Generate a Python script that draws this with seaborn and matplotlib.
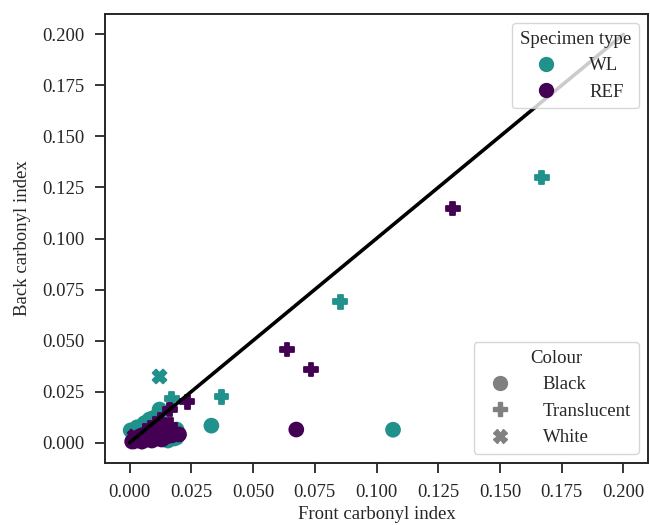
import pandas as pd
import matplotlib
matplotlib.use("Agg")
import matplotlib.pyplot as plt
from matplotlib.lines import Line2D
import seaborn as sns

# --- DATA ---
# WL specimens
wl_black_x = [0.0004, 0.003, 0.006, 0.008, 0.0095, 0.0121, 0.0165, 0.018, 0.0155, 0.019,
              0.0331, 0.1067, 0.002, 0.008, 0.010, 0.013, 0.0045, 0.019]
wl_black_y = [0.0060, 0.0075, 0.0095, 0.0113, 0.012, 0.0162, 0.0045, 0.002, 0.001, 0.0064,
              0.0083, 0.0063, 0.001, 0.003, 0.002, 0.0065, 0.004, 0.0025]
wl_trans_x = [0.1669, 0.0853, 0.0372, 0.017, 0.0115, 0.018, 0.0085, 0.0145, 0.005]
wl_trans_y = [0.1299, 0.0691, 0.0225, 0.0215, 0.0135, 0.006, 0.010, 0.0035, 0.002]
wl_white_x = [0.0121, 0.0075, 0.014, 0.0035, 0.0165]
wl_white_y = [0.0324, 0.0085, 0.0025, 0.0045, 0.0055]

# REF specimens
ref_black_x = [0.0675, 0.001, 0.003, 0.005, 0.007, 0.009, 0.011, 0.013, 0.015, 0.017,
               0.004, 0.006, 0.008, 0.010, 0.012, 0.002, 0.014, 0.020]
ref_black_y = [0.0064, 0.0005, 0.001, 0.0005, 0.0015, 0.001, 0.002, 0.0015, 0.003, 0.0035,
               0.003, 0.004, 0.005, 0.006, 0.004, 0.002, 0.007, 0.004]
ref_trans_x = [0.1309, 0.0638, 0.0735, 0.0234, 0.0162, 0.0105, 0.0165, 0.0125, 0.0085, 0.0065]
ref_trans_y = [0.1147, 0.0456, 0.0358, 0.0200, 0.0162, 0.009, 0.0085, 0.011, 0.007, 0.0055]
ref_white_x = [0.002, 0.005, 0.009, 0.0115, 0.0135, 0.016, 0.0035]
ref_white_y = [0.003, 0.002, 0.0035, 0.005, 0.0025, 0.0045, 0.0005]

ref_line = [0.0, 0.2]

types = ["WL", "REF"]
colours = ["Black", "Translucent", "White"]
palette = {"WL": "#21918c", "REF": "#440154"}
markers = {"Black": "o", "Translucent": "P", "White": "X"}

# --- BUILD TABLE ---
rows = []
groups = [("WL", "Black", wl_black_x, wl_black_y),
          ("WL", "Translucent", wl_trans_x, wl_trans_y),
          ("WL", "White", wl_white_x, wl_white_y),
          ("REF", "Black", ref_black_x, ref_black_y),
          ("REF", "Translucent", ref_trans_x, ref_trans_y),
          ("REF", "White", ref_white_x, ref_white_y)]
for t, c, xs, ys in groups:
    for x, y in zip(xs, ys):
        rows.append({"front": x, "back": y, "type": t, "colour": c})
df = pd.DataFrame(rows)

# --- PLOT ---
sns.set_style("ticks")
plt.rcParams["font.family"] = ["Liberation Serif", "DejaVu Serif"]
FS = 13.5

fig = plt.figure(figsize=(6.5, 5.25), dpi=100)
ax = fig.add_axes([105 / 650, 62 / 525, 543 / 650, 449 / 525])

sns.scatterplot(data=df, x="front", y="back", hue="type", style="colour",
                palette=palette, markers=markers, s=100, linewidth=1.3,
                edgecolor="face", legend=False, ax=ax)
ax.plot(ref_line, ref_line, color="black", lw=2.6, zorder=5)

ax.set_xlim(-0.01, 0.21)
ax.set_ylim(-0.01, 0.21)
ticks = [0, 0.025, 0.05, 0.075, 0.1, 0.125, 0.15, 0.175, 0.2]
ax.set_xticks(ticks)
ax.set_yticks(ticks)
ax.xaxis.set_major_formatter(matplotlib.ticker.FormatStrFormatter("%.3f"))
ax.yaxis.set_major_formatter(matplotlib.ticker.FormatStrFormatter("%.3f"))
ax.tick_params(labelsize=FS, length=7, width=1.3, pad=8)
for sp in ax.spines.values():
    sp.set_linewidth(1.4)
ax.set_xlabel("Front carbonyl index", fontsize=FS, labelpad=4)
ax.set_ylabel("Back carbonyl index", fontsize=FS, labelpad=8)

h1 = [Line2D([], [], marker="o", ls="", color=palette[t], markersize=10) for t in types]
leg1 = ax.legend(h1, types, title="Specimen type", loc="upper right",
                 fontsize=FS, title_fontsize=FS, handletextpad=1.3)
leg1.set_zorder(10)
ax.add_artist(leg1)
h2 = [Line2D([], [], marker=markers[c], ls="", color="#808080", markersize=10,
             markeredgewidth=1.0) for c in colours]
leg2 = ax.legend(h2, colours, title="Colour", loc="lower right",
                 fontsize=FS, title_fontsize=FS, handletextpad=1.3)
leg2.set_zorder(10)

plt.savefig("out.png", dpi=100)
